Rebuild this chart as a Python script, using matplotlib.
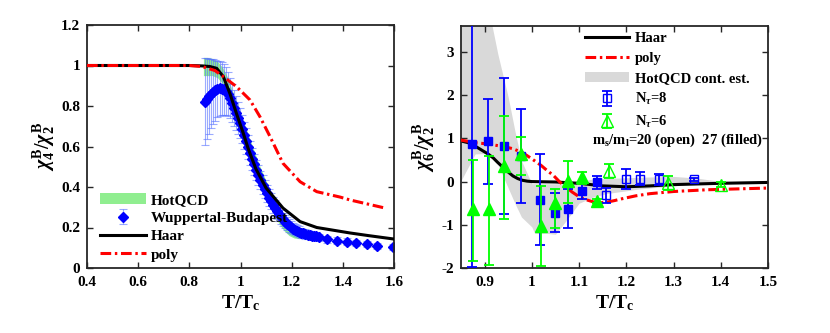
import numpy as np
import matplotlib
matplotlib.use("Agg")
import matplotlib.pyplot as plt
from matplotlib.patches import Patch
from matplotlib.lines import Line2D

plt.rcParams['font.family'] = ['Liberation Serif', 'DejaVu Serif']
plt.rcParams['font.weight'] = 'bold'
plt.rcParams['mathtext.fontset'] = 'custom'
plt.rcParams['mathtext.rm'] = 'Liberation Serif:bold'
plt.rcParams['mathtext.bf'] = 'Liberation Serif:bold'
plt.rcParams['mathtext.it'] = 'Liberation Serif:italic'

# ---------------- Left panel data: chi4/chi2 ----------------
haar4_x = [0.40, 0.60, 0.80, 0.85, 0.88, 0.907, 0.933, 0.959, 0.985, 1.011, 1.03, 1.06, 1.10, 1.166, 1.233, 1.298, 1.428, 1.50, 1.60]
haar4_y = [1.00, 1.00, 1.00, 0.998, 0.995, 0.986, 0.945, 0.86, 0.76, 0.665, 0.59, 0.49, 0.395, 0.296, 0.229, 0.20, 0.173, 0.16, 0.143]

poly4_x = [0.40, 0.60, 0.80, 0.85, 0.90, 0.933, 0.985, 1.037, 1.076, 1.115, 1.166, 1.233, 1.298, 1.39, 1.428, 1.50, 1.565]
poly4_y = [1.00, 1.00, 1.00, 0.995, 0.975, 0.945, 0.895, 0.83, 0.747, 0.65, 0.517, 0.426, 0.377, 0.35, 0.336, 0.315, 0.296]

hot4_x = [0.855, 0.87, 0.89, 0.91, 0.93, 0.95, 0.97, 0.99, 1.01, 1.03, 1.05, 1.07, 1.09, 1.11, 1.13, 1.15, 1.17, 1.19, 1.21, 1.23, 1.25, 1.265]
hot4_lo = [0.95, 0.95, 0.95, 0.94, 0.91, 0.86, 0.79, 0.72, 0.65, 0.58, 0.51, 0.44, 0.38, 0.32, 0.27, 0.22, 0.185, 0.16, 0.148, 0.145, 0.148, 0.155]
hot4_hi = [1.04, 1.04, 1.035, 1.02, 0.99, 0.94, 0.87, 0.80, 0.73, 0.66, 0.59, 0.52, 0.46, 0.40, 0.35, 0.30, 0.26, 0.23, 0.21, 0.195, 0.185, 0.175]

wb_x = [0.862, 0.870, 0.878, 0.886, 0.894, 0.902, 0.910, 0.918, 0.926, 0.934, 0.942, 0.950, 0.958, 0.966, 0.974,
        0.982, 0.990, 0.998, 1.006, 1.014, 1.022, 1.030, 1.038, 1.046, 1.054, 1.062, 1.070, 1.078, 1.086, 1.094,
        1.102, 1.110, 1.118, 1.126, 1.134, 1.142, 1.150, 1.158, 1.166, 1.174, 1.182, 1.190, 1.198, 1.206, 1.214,
        1.222, 1.230, 1.238, 1.246, 1.254, 1.262, 1.270, 1.278, 1.286, 1.294,
        1.305, 1.340, 1.377, 1.416, 1.450, 1.495, 1.535, 1.597]
wb_y = [0.82, 0.835, 0.848, 0.86, 0.87, 0.878, 0.884, 0.887, 0.886, 0.882, 0.874, 0.86, 0.84, 0.815, 0.79,
        0.765, 0.74, 0.715, 0.685, 0.655, 0.625, 0.597, 0.568, 0.54, 0.512, 0.485, 0.46, 0.435, 0.412, 0.39,
        0.368, 0.348, 0.33, 0.312, 0.296, 0.28, 0.266, 0.252, 0.24, 0.229, 0.219, 0.21, 0.202, 0.195, 0.189,
        0.184, 0.179, 0.175, 0.171, 0.168, 0.165, 0.162, 0.16, 0.158, 0.156,
        0.152, 0.142, 0.135, 0.13, 0.124, 0.118, 0.11, 0.103]
wb_err = [0.215, 0.20, 0.185, 0.17, 0.16, 0.15, 0.14, 0.135, 0.13, 0.125, 0.12, 0.11, 0.10, 0.095, 0.09,
          0.085, 0.08, 0.075, 0.07, 0.067, 0.064, 0.061, 0.058, 0.055, 0.052, 0.05, 0.048, 0.046, 0.045, 0.044,
          0.043, 0.042, 0.04, 0.039, 0.038, 0.037, 0.036, 0.035, 0.034, 0.033, 0.032, 0.031, 0.03, 0.029, 0.028,
          0.027, 0.026, 0.025, 0.024, 0.023, 0.022, 0.021, 0.02, 0.02, 0.02,
          0.018, 0.017, 0.016, 0.016, 0.015, 0.015, 0.015, 0.015]

# ---------------- Right panel data: chi6/chi2 ----------------
haar6_x = [0.85, 0.865, 0.88, 0.895, 0.907, 0.918, 0.928, 0.94, 0.95, 0.96, 0.97, 0.98, 0.99, 1.00, 1.05, 1.10, 1.15, 1.20, 1.25, 1.30, 1.40, 1.50]
haar6_y = [0.94, 0.90, 0.82, 0.72, 0.64, 0.55, 0.44, 0.32, 0.22, 0.13, 0.07, 0.03, 0.01, 0.0, -0.01, -0.04, -0.10, -0.12, -0.10, -0.07, -0.04, -0.02]

poly6_x = [0.85, 0.88, 0.907, 0.94, 0.96, 0.978, 0.99, 1.006, 1.02, 1.034, 1.045, 1.06, 1.073, 1.085, 1.10, 1.115, 1.13, 1.145,
           1.157, 1.175, 1.19, 1.22, 1.25, 1.30, 1.37, 1.45, 1.50]
poly6_y = [0.96, 0.90, 0.87, 0.81, 0.76, 0.68, 0.60, 0.48, 0.37, 0.24, 0.15, -0.02, -0.13, -0.24, -0.35, -0.42, -0.47, -0.49,
           -0.48, -0.44, -0.40, -0.33, -0.28, -0.23, -0.19, -0.165, -0.15]

hot6_x = [0.85, 0.88, 0.907, 0.914, 0.928, 0.95, 0.964, 0.978, 1.0, 1.006, 1.034, 1.05, 1.073, 1.10, 1.13, 1.157, 1.228, 1.30, 1.35, 1.40, 1.50]
hot6_hi = [3.7, 3.7, 3.7, 3.7, 2.95, 1.95, 1.18, 0.48, -0.05, -0.05, -0.05, -0.05, -0.05, 0.0, 0.06, 0.07, 0.10, 0.12, 0.08, 0.0, -0.01]
hot6_lo = [0.02, 0.64, 0.65, 0.60, 0.40, -0.15, -0.50, -0.82, -1.05, -1.20, -1.20, -1.22, -0.90, -0.50, -0.36, -0.28, -0.17, -0.10, -0.05, -0.03, -0.02]

n8f_x = [0.873, 0.907, 0.940, 0.978, 1.017, 1.050, 1.076, 1.107, 1.137]
n8f_y = [0.87, 0.93, 0.82, 0.60, -0.42, -0.72, -0.63, -0.21, -0.02]
n8f_e = [2.85, 0.98, 1.58, 1.09, 1.05, 0.45, 0.45, 0.20, 0.15]

n6f_x = [0.875, 0.909, 0.942, 0.976, 1.019, 1.050, 1.076, 1.107, 1.137]
n6f_y = [-0.63, -0.63, 0.37, 0.64, -1.02, -0.50, 0.02, 0.10, -0.45]
n6f_elo = [1.21, 1.31, 1.23, 0.49, 0.94, 0.57, 0.52, 0.15, 0.04]
n6f_ehi = [1.13, 1.23, 1.15, 0.38, 0.91, 0.33, 0.46, 0.12, 0.04]

n8o_x = [1.156, 1.199, 1.228, 1.270, 1.343]
n8o_y = [-0.32, 0.06, 0.06, 0.05, 0.05]
n8o_e = [0.17, 0.23, 0.15, 0.13, 0.04]

n6o_x = [1.163, 1.288, 1.401]
n6o_y = [0.25, -0.03, -0.07]
n6o_e = [0.16, 0.17, 0.05]

xt1 = [0.4, 0.6, 0.8, 1.0, 1.2, 1.4, 1.6]
xt1_lab = ['0.4', '0.6', '0.8', '1', '1.2', '1.4', '1.6']
yt1 = [0, 0.2, 0.4, 0.6, 0.8, 1.0, 1.2]
yt1_lab = ['0', '0.2', '0.4', '0.6', '0.8', '1', '1.2']
xt2 = [0.9, 1.0, 1.1, 1.2, 1.3, 1.4, 1.5]
xt2_lab = ['0.9', '1', '1.1', '1.2', '1.3', '1.4', '1.5']
yt2 = [-2, -1, 0, 1, 2, 3]
yt2_lab = ['-2', '-1', '0', '1', '2', '3']

RED = '#ff0000'
BLUE = '#0000ff'
GREEN = '#00ff00'
DASHDOT = (3.5, 1.2, 0.8, 1.2)

fig = plt.figure(figsize=(8.3, 3.33), dpi=100)
ax1 = fig.add_axes([87/830, 65/333, 307/830, 243/333])
ax2 = fig.add_axes([461/830, 65/333, 307/830, 242/333])

def style(ax):
    for s in ax.spines.values():
        s.set_color('#262626')
        s.set_linewidth(1.3)
    ax.tick_params(direction='in', length=4, width=1.0, top=True, right=True,
                   labelsize=11, colors='#262626')
    ax.tick_params(axis='x', pad=6)
    ax.tick_params(axis='y', pad=5)
    for lab in ax.get_xticklabels() + ax.get_yticklabels():
        lab.set_fontweight('bold')
        lab.set_color('black')

# ---- left ----
ax1.fill_between(hot4_x, hot4_lo, hot4_hi, color='#90ee90', lw=0, zorder=1)
eb = ax1.errorbar(wb_x, wb_y, yerr=wb_err, fmt='D', ms=5, color=BLUE, mfc=BLUE, mec=BLUE,
                  ecolor=(0.35, 0.45, 1.0, 0.6), elinewidth=0.8, capsize=3, capthick=0.8, zorder=2)
ax1.plot(haar4_x, haar4_y, color='black', lw=2.2, zorder=3)
ax1.plot(poly4_x, poly4_y, color=RED, lw=2.2, dashes=DASHDOT, zorder=4)
ax1.set_xlim(0.4, 1.6)
ax1.set_ylim(0, 1.2)
ax1.set_xticks(xt1)
ax1.set_xticklabels(xt1_lab)
ax1.set_yticks(yt1)
ax1.set_yticklabels(yt1_lab)
style(ax1)
ax1.set_xlabel(r'T/T$_\mathbf{c}$', fontsize=14, fontweight='bold', labelpad=3)
ax1.set_ylabel(r'$\chi_{\mathbf{4}}^{\mathbf{B}}/\chi_{\mathbf{2}}^{\mathbf{B}}$', fontsize=14.5, labelpad=3)

h1 = [Patch(facecolor='#90ee90', edgecolor='none'), eb,
      Line2D([], [], color='black', lw=2.2),
      Line2D([], [], color=RED, lw=2.2, dashes=DASHDOT)]
l1 = ['HotQCD', 'Wuppertal-Budapest', 'Haar', 'poly']
ax1.legend(h1, l1, loc='upper left', bbox_to_anchor=(100/830, 1 - 193/333), bbox_transform=fig.transFigure,
           frameon=False, borderpad=0, borderaxespad=0, handlelength=3.0, handletextpad=0.35,
           labelspacing=0.3, prop={'size': 11, 'weight': 'bold'})

# ---- right ----
ax2.fill_between(hot6_x, hot6_lo, hot6_hi, color='#d9d9d9', lw=0, zorder=1)
ax2.plot(haar6_x, haar6_y, color='black', lw=2.2, zorder=2)
ax2.plot(poly6_x, poly6_y, color=RED, lw=2.2, dashes=DASHDOT, zorder=3)
ax2.errorbar(n8f_x, n8f_y, yerr=n8f_e, fmt='s', ms=6, color=BLUE, elinewidth=1.3,
             capsize=3.5, capthick=1.3, zorder=4)
ax2.errorbar(n6f_x, n6f_y, yerr=[n6f_elo, n6f_ehi], fmt='^', ms=8, color=GREEN, elinewidth=1.3,
             capsize=3.5, capthick=1.3, zorder=5)
e8 = ax2.errorbar(n8o_x, n8o_y, yerr=n8o_e, fmt='s', ms=6, color=BLUE, mfc='none', elinewidth=1.3,
                  capsize=3.5, capthick=1.3, zorder=4)
e6 = ax2.errorbar(n6o_x, n6o_y, yerr=n6o_e, fmt='^', ms=8, color=GREEN, mfc='none', elinewidth=1.3,
                  capsize=3.5, capthick=1.3, zorder=5)
ax2.set_xlim(0.85, 1.5)
ax2.set_ylim(-2, 3.6)
ax2.set_xticks(xt2)
ax2.set_xticklabels(xt2_lab)
ax2.set_yticks(yt2)
ax2.set_yticklabels(yt2_lab)
style(ax2)
ax2.set_xlabel(r'T/T$_\mathbf{c}$', fontsize=14, fontweight='bold', labelpad=3)
ax2.set_ylabel(r'$\chi_{\mathbf{6}}^{\mathbf{B}}/\chi_{\mathbf{2}}^{\mathbf{B}}$', fontsize=14.5, labelpad=3)

h2 = [Line2D([], [], color='black', lw=2.2),
      Line2D([], [], color=RED, lw=2.2, dashes=DASHDOT),
      Patch(facecolor='#d9d9d9', edgecolor='none'), e8, e6]
l2 = ['Haar', 'poly', 'HotQCD cont. est.', r'N$_{\tau}$=8', r'N$_{\tau}$=6']
ax2.legend(h2, l2, loc='upper left', bbox_to_anchor=(585/830, 1 - 32/333), bbox_transform=fig.transFigure,
           frameon=False, borderpad=0, borderaxespad=0, handlelength=3.0, handletextpad=0.4,
           labelspacing=0.45, prop={'size': 10.5, 'weight': 'bold'})
ax2.text(1.128, 0.95, r'm$_\mathbf{s}$/m$_\mathbf{l}$=20 (open)  27 (filled)', fontsize=10.5,
         fontweight='bold', va='center', ha='left', zorder=6)

fig.savefig('out.png', dpi=100)
